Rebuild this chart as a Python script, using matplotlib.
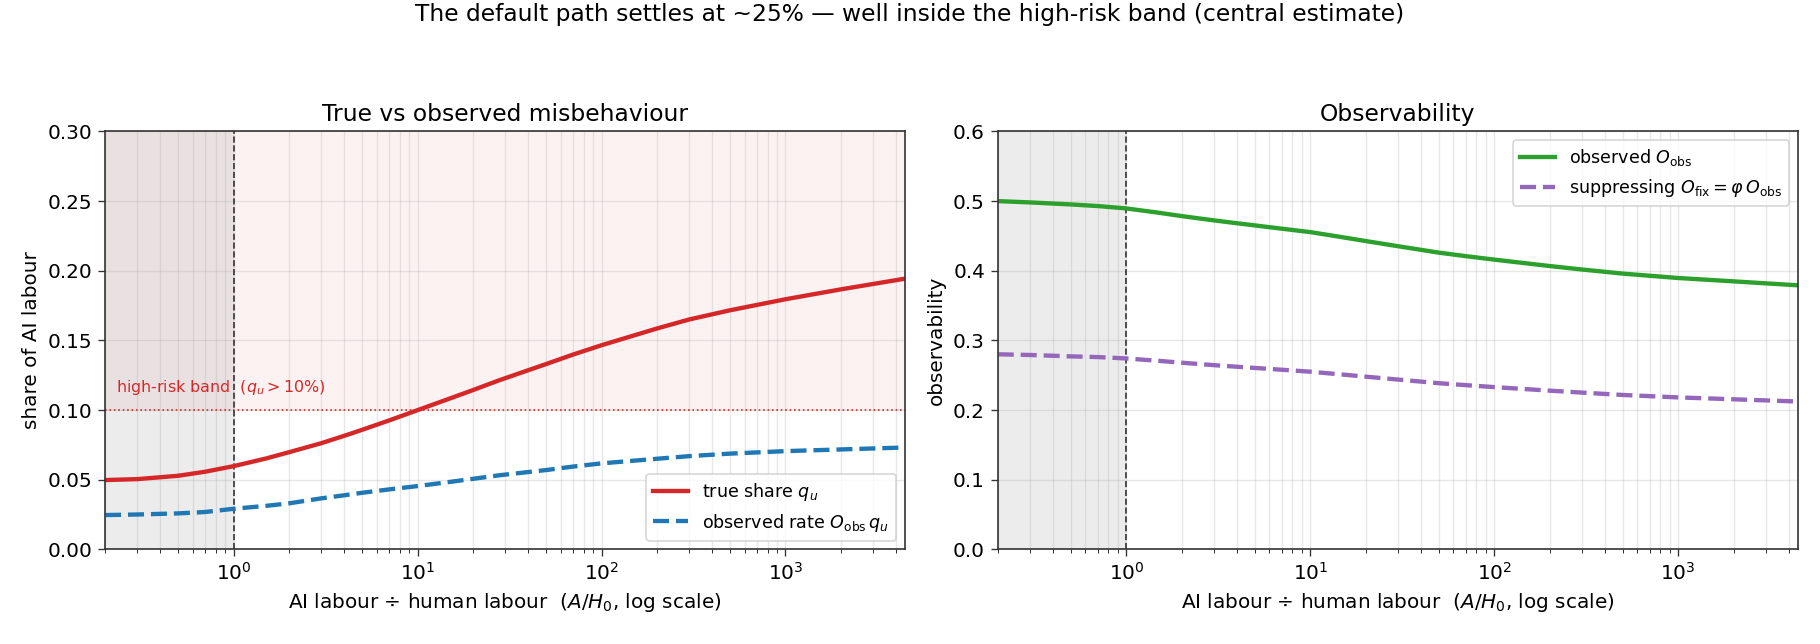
import matplotlib.pyplot as plt

# A/H0 ratio (x) and curves
ratio = [0.2, 0.3, 0.5, 0.7, 1, 1.5, 2, 3, 4, 5, 7, 10, 15, 20, 28, 50, 70,
         100, 200, 300, 500, 1000, 2000, 4470]
true_share = [0.0497, 0.0504, 0.0528, 0.0557, 0.0597, 0.0652, 0.0697, 0.0762,
              0.0815, 0.0858, 0.0925, 0.0999, 0.1083, 0.1143, 0.1215, 0.1330,
              0.1398, 0.1465, 0.1585, 0.1650, 0.1716, 0.1795, 0.1866, 0.1943]
observed_rate = [0.0246, 0.0250, 0.0258, 0.0268, 0.0291, 0.0312, 0.0330, 0.0366,
                 0.0388, 0.0406, 0.0430, 0.0454, 0.0484, 0.0506, 0.0532, 0.0569,
                 0.0594, 0.0617, 0.0650, 0.0669, 0.0687, 0.0705, 0.0717, 0.0731]
obs_observability = [0.4999, 0.4980, 0.4951, 0.4928, 0.4894, 0.4832, 0.4784,
                     0.4722, 0.4681, 0.4650, 0.4603, 0.4554, 0.4480, 0.4426,
                     0.4364, 0.4259, 0.4209, 0.4159, 0.4067, 0.4017, 0.3958,
                     0.3895, 0.3847, 0.3790]
fix_observability = [0.280, 0.279, 0.277, 0.276, 0.274, 0.2706, 0.2679, 0.2644,
                     0.2621, 0.2604, 0.2578, 0.2550, 0.2509, 0.2479, 0.2444,
                     0.2385, 0.2357, 0.2329, 0.2278, 0.2250, 0.2216, 0.2181,
                     0.2154, 0.2122]
risk_threshold = 0.10

plt.rcParams['font.size'] = 12
plt.rcParams['axes.edgecolor'] = '#333333'
plt.rcParams['xtick.color'] = '#333333'
plt.rcParams['ytick.color'] = '#333333'
plt.rcParams['xtick.labelcolor'] = 'black'
plt.rcParams['ytick.labelcolor'] = 'black'
plt.rcParams['xtick.major.size'] = 4.2
plt.rcParams['ytick.major.size'] = 4.2
plt.rcParams['xtick.minor.size'] = 2.4
plt.rcParams['axes.linewidth'] = 1.0

fig = plt.figure(figsize=(1820 / 120, 644 / 120), dpi=120)
ax1 = fig.add_axes([0.0577, 0.147, 0.4396, 0.649])
ax2 = fig.add_axes([0.5482, 0.147, 0.4396, 0.649])

xlabel = r'AI labour $\div$ human labour  ($A/H_0$, log scale)'

# left panel
ax1.axhspan(risk_threshold, 0.30, color='tab:red', alpha=0.06, lw=0)
ax1.axvspan(0.2, 1, color='grey', alpha=0.15, lw=0)
ax1.axhline(risk_threshold, color='tab:red', ls=':', lw=1.0)
ax1.axvline(1, color='#333333', ls='--', lw=1.0)
ax1.plot(ratio, true_share, color='tab:red', lw=2.6, label=r'true share $q_u$')
ax1.plot(ratio, observed_rate, color='tab:blue', lw=2.6, ls='--',
         label=r'observed rate $O_{\mathrm{obs}}\,q_u$')
ax1.text(0.23, 0.113, r'high-risk band  $(q_u > 10\%)$', color='tab:red', fontsize=9.5)
ax1.set_xscale('log')
ax1.set_xlim(0.2, 4470)
ax1.set_ylim(0, 0.30)
ax1.set_yticks([0, 0.05, 0.10, 0.15, 0.20, 0.25, 0.30])
ax1.set_yticklabels(['0.00', '0.05', '0.10', '0.15', '0.20', '0.25', '0.30'])
ax1.grid(True, which='both', alpha=0.3)
ax1.set_title('True vs observed misbehaviour', fontsize=14)
ax1.set_xlabel(xlabel)
ax1.set_ylabel('share of AI labour')
ax1.legend(loc='lower right', fontsize=10.5)

# right panel
ax2.axvspan(0.2, 1, color='grey', alpha=0.15, lw=0)
ax2.axvline(1, color='#333333', ls='--', lw=1.0)
ax2.plot(ratio, obs_observability, color='tab:green', lw=2.6,
         label=r'observed $O_{\mathrm{obs}}$')
ax2.plot(ratio, fix_observability, color='tab:purple', lw=2.6, ls='--',
         label=r'suppressing $O_{\mathrm{fix}} = \varphi\,O_{\mathrm{obs}}$')
ax2.set_xscale('log')
ax2.set_xlim(0.2, 4470)
ax2.set_ylim(0, 0.6)
ax2.grid(True, which='both', alpha=0.3)
ax2.set_title('Observability', fontsize=14)
ax2.set_xlabel(xlabel)
ax2.set_ylabel('observability')
ax2.legend(loc='upper right', fontsize=10.5)

fig.suptitle('The default path settles at ~25% \u2014 well inside the high-risk band (central estimate)',
             fontsize=14, y=0.995)

fig.savefig('out.png', dpi=120)
